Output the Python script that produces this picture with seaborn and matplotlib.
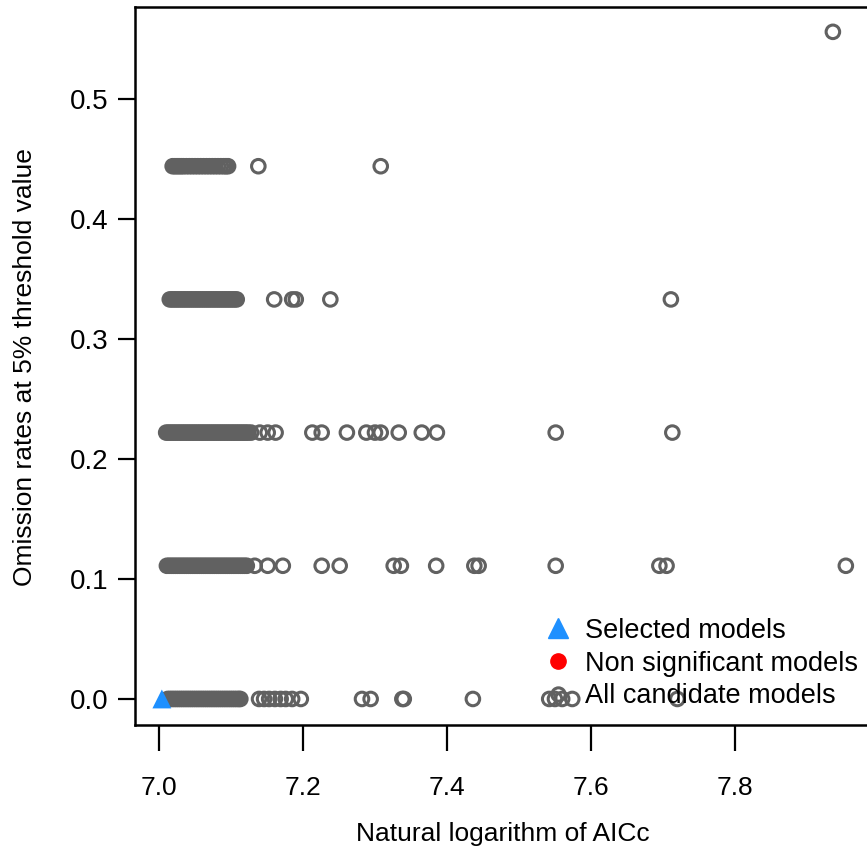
import pandas as pd
import numpy as np
import matplotlib
matplotlib.use('Agg')
import matplotlib.pyplot as plt
from matplotlib.lines import Line2D
import seaborn as sns

# omission rate levels (1/9 steps) and the ln(AICc) of every candidate model at each level
omission_levels = [0.0, 0.111, 0.222, 0.333, 0.444, 0.556]

aicc_om0 = [7.012, 7.015, 7.018, 7.021, 7.024, 7.027, 7.030, 7.033, 7.036, 7.039,
            7.042, 7.045, 7.048, 7.051, 7.054, 7.057, 7.060, 7.063, 7.066, 7.069,
            7.072, 7.075, 7.078, 7.081, 7.084, 7.087, 7.090, 7.093, 7.096, 7.099,
            7.102, 7.105, 7.108, 7.111, 7.113,
            7.139, 7.146, 7.153, 7.161, 7.169, 7.176, 7.185, 7.197, 7.282, 7.294,
            7.338, 7.340, 7.436, 7.542, 7.550, 7.560, 7.574, 7.720]

aicc_om1 = [7.011, 7.014, 7.017, 7.020, 7.023, 7.026, 7.029, 7.032, 7.035, 7.038,
            7.041, 7.044, 7.047, 7.050, 7.053, 7.056, 7.059, 7.062, 7.065, 7.068,
            7.071, 7.074, 7.077, 7.080, 7.083, 7.086, 7.089, 7.092, 7.095, 7.098,
            7.101, 7.104, 7.107, 7.110, 7.113, 7.116, 7.119, 7.122,
            7.133, 7.151, 7.172, 7.226, 7.251, 7.326, 7.336, 7.385, 7.438, 7.444,
            7.551, 7.695, 7.705, 7.954]

aicc_om2 = [7.010, 7.013, 7.016, 7.019, 7.022, 7.025, 7.028, 7.031, 7.034, 7.037,
            7.040, 7.043, 7.046, 7.049, 7.052, 7.055, 7.058, 7.061, 7.064, 7.067,
            7.070, 7.073, 7.076, 7.079, 7.082, 7.085, 7.088, 7.091, 7.094, 7.097,
            7.100, 7.103, 7.106, 7.109, 7.112, 7.115, 7.118, 7.121, 7.124, 7.128,
            7.140, 7.151, 7.162, 7.213, 7.226, 7.261, 7.288, 7.300, 7.308, 7.333,
            7.365, 7.386, 7.551, 7.713]

aicc_om3 = [7.015, 7.018, 7.021, 7.024, 7.027, 7.030, 7.033, 7.036, 7.039, 7.042,
            7.045, 7.048, 7.051, 7.054, 7.057, 7.060, 7.063, 7.066, 7.069, 7.072,
            7.075, 7.078, 7.081, 7.084, 7.087, 7.090, 7.093, 7.096, 7.099, 7.102,
            7.105, 7.108,
            7.160, 7.185, 7.190, 7.238, 7.711]

aicc_om4 = [7.019, 7.022, 7.025, 7.028, 7.031, 7.034, 7.038, 7.042, 7.046, 7.050,
            7.054, 7.058, 7.062, 7.066, 7.070, 7.074, 7.078, 7.082, 7.086, 7.090,
            7.093, 7.096,
            7.138, 7.308]

aicc_om5 = [7.936]

selected_aicc = [7.004]
selected_omission = [0.0]

x_ticks = [7.0, 7.2, 7.4, 7.6, 7.8]
y_ticks = [0.0, 0.1, 0.2, 0.3, 0.4, 0.5]

rows = []
for level, vals in zip(omission_levels, [aicc_om0, aicc_om1, aicc_om2, aicc_om3, aicc_om4, aicc_om5]):
    rows.append(pd.DataFrame({'aicc': vals, 'omission': level}))
df = pd.concat(rows, ignore_index=True)
sel = pd.DataFrame({'aicc': selected_aicc, 'omission': selected_omission})

sns.set_theme(style='ticks')
plt.rcParams['font.family'] = ['Liberation Sans', 'DejaVu Sans']
plt.rcParams['text.color'] = 'black'
plt.rcParams['axes.labelcolor'] = 'black'

grey = '#616161'
fig = plt.figure(figsize=(8.67, 8.61), dpi=100)
W, H = 867, 861
ax = fig.add_axes([135 / W, (H - 725) / H, (875 - 135) / W, 718 / H])

sns.scatterplot(data=df, x='aicc', y='omission', ax=ax, marker='o', s=95,
                color=grey, facecolor='none', edgecolor=grey, linewidth=2.2, zorder=2)
sns.scatterplot(data=sel, x='aicc', y='omission', ax=ax, marker='^', s=185,
                color='#1E90FF', edgecolor='none', linewidth=0, zorder=3)

ax.set_xlim(6.9667, 7.9945)
ax.set_ylim(-0.0217, 0.5767)
ax.set_xticks(x_ticks)
ax.set_xticklabels([f'{t:.1f}' for t in x_ticks], fontsize=19)
ax.set_yticks(y_ticks)
ax.set_yticklabels([f'{t:.1f}' for t in y_ticks], fontsize=20)
ax.tick_params(axis='x', length=19, width=1.6, pad=18, colors='black')
ax.tick_params(axis='y', length=12, width=1.6, pad=7, colors='black')
for sp in ax.spines.values():
    sp.set_linewidth(1.8)
    sp.set_color('black')

ax.set_xlabel('Natural logarithm of AICc', fontsize=19)
ax.set_ylabel('Omission rates at 5% threshold value', fontsize=19)
ax.xaxis.set_label_coords(0.497, -0.135)
ax.yaxis.set_label_coords(-0.132, 0.499)

handles = [
    Line2D([], [], marker='^', linestyle='none', color='#1E90FF', markersize=14),
    Line2D([], [], marker='o', linestyle='none', color='red', markersize=11),
    Line2D([], [], marker='o', linestyle='none', markerfacecolor='none',
           markeredgecolor=grey, markeredgewidth=2.2, markersize=9.6),
]
labels = ['Selected models', 'Non significant models', 'All candidate models']
ax.legend(handles, labels, loc='lower left', frameon=False, fontsize=19.5,
          handlelength=1.0, handletextpad=0.5, labelspacing=0.25, borderpad=0,
          bbox_to_anchor=(531 / W, 1 - 723 / H), bbox_transform=fig.transFigure)

fig.savefig('out.png', dpi=100)
